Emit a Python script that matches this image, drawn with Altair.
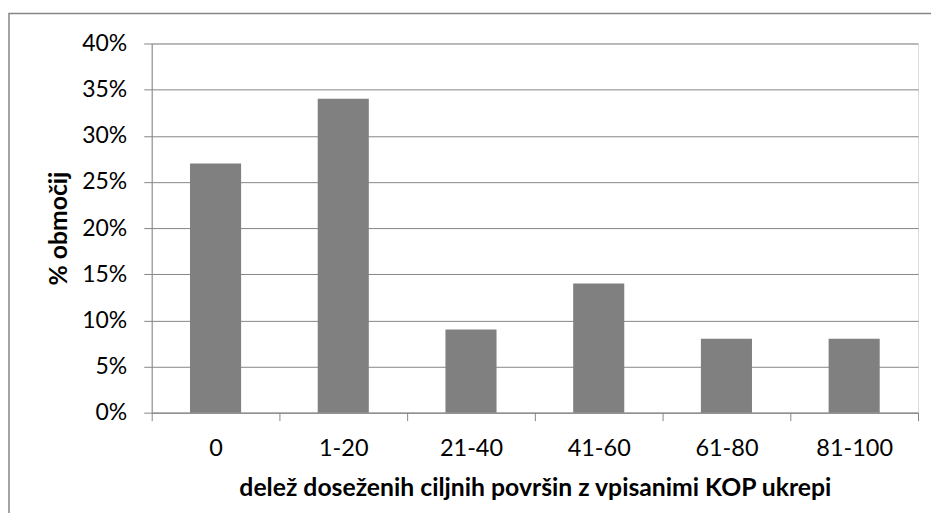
import altair as alt
import pandas as pd

categories = ["0", "1-20", "21-40", "41-60", "61-80", "81-100"]
values = [0.27, 0.34, 0.09, 0.14, 0.08, 0.08]
y_ticks = [0, 0.05, 0.10, 0.15, 0.20, 0.25, 0.30, 0.35, 0.40]

df = pd.DataFrame({"kategorija": categories, "delez": values})

GRAY = "#868686"
FONT = "Lato"

bars = alt.Chart(df).mark_bar(color="#808080", width=alt.RelativeBandSize(0.4)).encode(
    x=alt.X(
        "kategorija:N",
        sort=categories,
        scale=alt.Scale(paddingInner=0, paddingOuter=0),
        axis=alt.Axis(
            title="delež doseženih ciljnih površin z vpisanimi KOP ukrepi",
            labelAngle=0,
            tickBand="extent",
            tickSize=8,
            tickColor=GRAY,
            domainColor=GRAY,
            labelPadding=16,
            labelFontSize=23.5,
            labelFont=FONT,
            labelColor="black",
            titleFont=FONT,
            titleFontSize=24.8,
            titleFontWeight="bold",
            titleColor="black",
            titleX=384,
            titleY=83,
            titleAlign="center",
            titleBaseline="alphabetic",
            grid=False,
        ),
    ),
    y=alt.Y(
        "delez:Q",
        scale=alt.Scale(domain=[0, 0.4], nice=False),
        axis=alt.Axis(
            title="% območij",
            values=y_ticks,
            format=".0%",
            tickSize=8,
            tickColor=GRAY,
            domainColor=GRAY,
            gridColor=GRAY,
            grid=True,
            labelPadding=17,
            labelFontSize=23,
            labelFont=FONT,
            labelColor="black",
            titleFont=FONT,
            titleFontSize=24.8,
            titleFontWeight="bold",
            titleColor="black",
            titleX=-92,
            titleY=185,
            titleAngle=270,
            titleAlign="center",
            titleBaseline="middle",
        ),
    ),
)

border = alt.Chart(alt.Data(values=[{}])).mark_rect(
    fillOpacity=0, stroke=GRAY, strokeWidth=1.5
).encode(
    x=alt.value(-143), x2=alt.value(820), y=alt.value(-30), y2=alt.value(520)
)

chart = alt.layer(border, bars).properties(
    width=768,
    height=370,
    autosize=alt.AutoSizeParams(type="none"),
    padding={"left": 144, "top": 35, "right": 13, "bottom": 100},
).configure_view(stroke=None).configure(background="white")

chart.save("out.html", embed_options={"renderer": "svg", "actions": False})
